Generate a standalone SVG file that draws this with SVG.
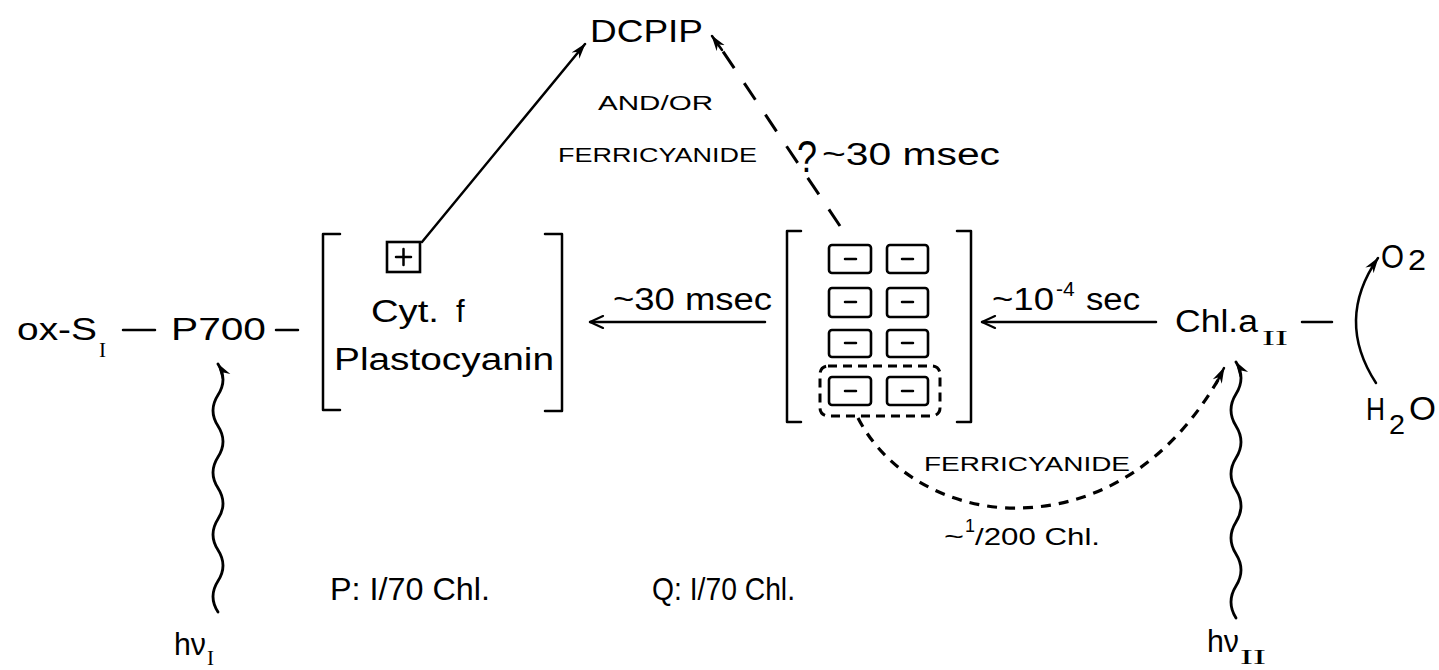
<svg xmlns="http://www.w3.org/2000/svg" width="1439" height="670" viewBox="0 0 1439 670">
<defs>
<style>
text{font-family:"Liberation Sans","DejaVu Sans",sans-serif;fill:#000}
.big{font-size:31px}
.small{font-size:21px}
.rom{font-family:"Liberation Serif","DejaVu Serif",serif;font-size:21px}
.ln{fill:none;stroke:#000;stroke-width:2.5;stroke-linecap:round;stroke-linejoin:round}
.wave{fill:none;stroke:#000;stroke-width:2.8;stroke-linecap:round}
.dash{fill:none;stroke:#000;stroke-width:3;stroke-dasharray:20 18}
.dash2{fill:none;stroke:#000;stroke-width:3.2;stroke-dasharray:10 8}
.box{fill:none;stroke:#000;stroke-width:2.6}
</style>
<marker id="vopen" viewBox="0 0 16 14" refX="15" refY="7" markerWidth="16" markerHeight="14" orient="auto" markerUnits="userSpaceOnUse">
<path d="M2,1 L15,7 L2,13" fill="none" stroke="#000" stroke-width="2.2" stroke-linecap="round"/>
</marker>
<marker id="vfill" viewBox="0 0 16 12" refX="15" refY="6" markerWidth="16" markerHeight="12" orient="auto" markerUnits="userSpaceOnUse">
<path d="M0,1 L16,6 L0,11 L5,6 z" fill="#000"/>
</marker>
</defs>

<g id="connectors">
<line class="ln" x1="422" y1="242" x2="585" y2="44" marker-end="url(#vfill)"/>
<line class="dash" x1="840" y1="226" x2="714" y2="38"/>
<path d="M722,50 L712,36" class="ln" marker-end="url(#vfill)"/>
<line class="ln" x1="765" y1="322" x2="590" y2="322" marker-end="url(#vopen)"/>
<line class="ln" x1="1156" y1="322" x2="982" y2="322" marker-end="url(#vopen)"/>
<path class="wave" d="M218,612 q-10,-15.5 0,-31 t0,-31 t0,-31 t0,-31 t0,-31 t0,-31 t0,-31 t0,-31" marker-end="url(#vfill)"/>
<path class="wave" d="M1236,618 q-10,-16 0,-32 t0,-32 t0,-32 t0,-32 t0,-32 t0,-32 t0,-32 t0,-32" marker-end="url(#vfill)"/>
<path class="dash2" d="M858,418 C890,480 960,510 1020,508 C1100,506 1170,462 1218,380"/>
<path class="ln" d="M1216,384 L1224,368" marker-end="url(#vfill)"/>
<path class="ln" d="M1376,383 Q1335,320 1378,258" marker-end="url(#vfill)"/>
</g>

<g id="ox-SI">
<text class="big" x="17" y="340" textLength="80" lengthAdjust="spacingAndGlyphs">ox-S</text>
<text class="rom" x="99" y="357">I</text>
<line class="ln" x1="123" y1="330" x2="155" y2="330"/>
</g>

<g id="P700">
<text class="big" x="171" y="340" textLength="95" lengthAdjust="spacingAndGlyphs">P700</text>
<line class="ln" x1="276" y1="330" x2="298" y2="330"/>
</g>

<g id="cytf">
<path class="ln" d="M340,234 L323,234 L323,410 L340,410"/>
<path class="ln" d="M545,234 L562,234 L562,411 L545,411"/>
<rect class="box" x="387" y="242" width="33" height="30"/>
<line class="ln" x1="396" y1="257" x2="411" y2="257"/>
<line class="ln" x1="403.5" y1="249" x2="403.5" y2="265"/>
<text class="big" x="371" y="322" textLength="68" lengthAdjust="spacingAndGlyphs">Cyt.</text>
<text class="big" x="456" y="322">f</text>
<text class="big" x="334" y="370" textLength="220" lengthAdjust="spacingAndGlyphs">Plastocyanin</text>
</g>

<g id="DCPIP">
<text class="big" x="590" y="42" textLength="113" lengthAdjust="spacingAndGlyphs">DCPIP</text>
<text class="small" x="598" y="110" textLength="115" lengthAdjust="spacingAndGlyphs">AND/OR</text>
<text class="small" x="558" y="162" textLength="199" lengthAdjust="spacingAndGlyphs">FERRICYANIDE</text>
</g>

<g id="label-30msec-top">
<text x="797" y="172" style="font-size:44px" textLength="20" lengthAdjust="spacingAndGlyphs">?</text>
<text class="big" x="822" y="165" textLength="178" lengthAdjust="spacingAndGlyphs">~30 msec</text>
</g>

<g id="label-30msec">
<text class="big" x="613" y="310" textLength="159" lengthAdjust="spacingAndGlyphs">~30 msec</text>
</g>

<g id="Q">
<path class="ln" d="M801,231 L787,231 L787,422 L801,422"/>
<path class="ln" d="M957,231 L971,231 L971,422 L957,422"/>
<rect class="box" x="829" y="245" width="42" height="28" rx="3"/>
<rect class="box" x="887" y="245" width="41" height="28" rx="3"/>
<rect class="box" x="829" y="288" width="42" height="29" rx="3"/>
<rect class="box" x="887" y="288" width="41" height="29" rx="3"/>
<rect class="box" x="829" y="330" width="42" height="27" rx="3"/>
<rect class="box" x="887" y="330" width="41" height="27" rx="3"/>
<rect class="box" x="829" y="377" width="42" height="28" rx="3"/>
<rect class="box" x="887" y="377" width="41" height="28" rx="3"/>
<line class="ln" x1="845" y1="259" x2="856" y2="259"/>
<line class="ln" x1="902" y1="259" x2="913" y2="259"/>
<line class="ln" x1="845" y1="302" x2="856" y2="302"/>
<line class="ln" x1="902" y1="302" x2="913" y2="302"/>
<line class="ln" x1="845" y1="343" x2="856" y2="343"/>
<line class="ln" x1="902" y1="343" x2="913" y2="343"/>
<line class="ln" x1="845" y1="391" x2="856" y2="391"/>
<line class="ln" x1="902" y1="391" x2="913" y2="391"/>
<rect x="820" y="366" width="120" height="50" rx="8" fill="none" stroke="#000" stroke-width="3" stroke-dasharray="9 6"/>
</g>

<g id="label-10-4sec">
<text class="big" x="992" y="310" textLength="62" lengthAdjust="spacingAndGlyphs">~10</text>
<text style="font-size:21px" x="1056" y="296">-4</text>
<text class="big" x="1086" y="310" textLength="54" lengthAdjust="spacingAndGlyphs">sec</text>
</g>

<g id="ChlaII">
<text class="big" x="1175" y="332" textLength="83" lengthAdjust="spacingAndGlyphs">Chl.a</text>
<text class="rom" x="1262" y="345" textLength="26" lengthAdjust="spacingAndGlyphs">II</text>
<line class="ln" x1="1302" y1="322" x2="1332" y2="322"/>
</g>

<g id="O2">
<text x="1381" y="268" style="font-size:34px" textLength="23" lengthAdjust="spacingAndGlyphs">O</text>
<text x="1408" y="270" style="font-size:30px" textLength="18" lengthAdjust="spacingAndGlyphs">2</text>
</g>

<g id="H2O">
<text x="1366" y="420" style="font-size:32px" textLength="19" lengthAdjust="spacingAndGlyphs">H</text>
<text x="1389" y="434" style="font-size:28px" textLength="16" lengthAdjust="spacingAndGlyphs">2</text>
<text x="1409" y="420" style="font-size:34px" textLength="27" lengthAdjust="spacingAndGlyphs">O</text>
</g>

<g id="ferri-low">
<text class="small" x="924" y="471" textLength="206" lengthAdjust="spacingAndGlyphs">FERRICYANIDE</text>
<text style="font-size:24px" x="944" y="545" textLength="20" lengthAdjust="spacingAndGlyphs">~</text>
<text style="font-size:18px" x="965" y="532">1</text>
<text style="font-size:24px" x="975" y="545" textLength="125" lengthAdjust="spacingAndGlyphs">/200 Chl.</text>
</g>

<g id="stoich">
<text class="big" x="330" y="600" textLength="160" lengthAdjust="spacingAndGlyphs">P: I/70 Chl.</text>
<text class="big" x="652" y="600" textLength="143" lengthAdjust="spacingAndGlyphs">Q: I/70 Chl.</text>
</g>

<g id="hv">
<text class="big" x="174" y="655" textLength="32" lengthAdjust="spacingAndGlyphs">hν</text>
<text class="rom" x="207" y="665">I</text>
<text class="big" x="1207" y="652" textLength="32" lengthAdjust="spacingAndGlyphs">hν</text>
<text class="rom" x="1240" y="664" textLength="26" lengthAdjust="spacingAndGlyphs">II</text>
</g>
</svg>
